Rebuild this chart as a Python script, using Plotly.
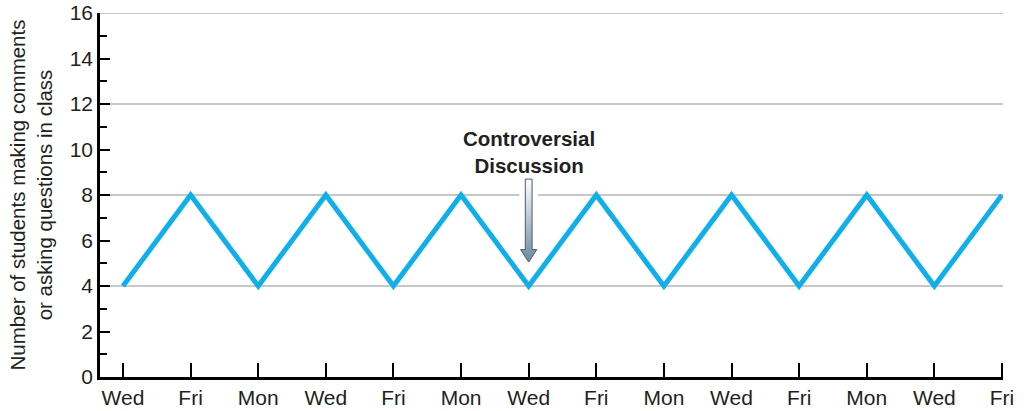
import plotly.graph_objects as go

# Class sessions and the number of students participating in each
days = ["Wed", "Fri", "Mon", "Wed", "Fri", "Mon", "Wed",
        "Fri", "Mon", "Wed", "Fri", "Mon", "Wed", "Fri"]
students = [4, 8, 4, 8, 4, 8, 4, 8, 4, 8, 4, 8, 4, 8]

y_ticks = [0, 2, 4, 6, 8, 10, 12, 14, 16]
grid_levels = [4, 8, 12, 16]

event_index = 6          # session where the controversial discussion happened
event_label = "Controversial<br>Discussion"

x_idx = list(range(len(days)))
LINE_BLUE = "#0db0ec"
TEXT = "#231f20"
FONT = "Liberation Sans, Arial, Helvetica, sans-serif"

fig = go.Figure()

# Participation line
fig.add_trace(go.Scatter(
    x=x_idx, y=students, mode="lines",
    line=dict(color=LINE_BLUE, width=5, shape="linear"),
    hoverinfo="skip", showlegend=False,
))

# Downward arrow pointing at the event session (gradient-filled polygon)
ex = x_idx[event_index]
ey = students[event_index]
shaft_hw, head_hw = 0.05, 0.12
tip_y, head_base_y, top_y = ey + 1.05, ey + 1.6, ey + 4.7
arrow_x = [ex - shaft_hw, ex + shaft_hw, ex + shaft_hw, ex + head_hw,
           ex, ex - head_hw, ex - shaft_hw, ex - shaft_hw]
arrow_y = [top_y, top_y, head_base_y, head_base_y,
           tip_y, head_base_y, head_base_y, top_y]
fig.add_trace(go.Scatter(
    x=arrow_x, y=arrow_y, mode="lines", fill="toself",
    line=dict(color="#4d5a63", width=1),
    fillgradient=dict(type="vertical", start=tip_y, stop=top_y,
                      colorscale=[[0, "#6a8ba1"], [1, "#ffffff"]]),
    hoverinfo="skip", showlegend=False,
))

shapes = []
for g in grid_levels:
    shapes.append(dict(type="line", xref="paper", yref="y", x0=0, x1=1,
                       y0=g, y1=g, layer="below",
                       line=dict(color="#b5b5b5", width=1.5)))
# clear the gridline behind the arrow shaft
shapes.append(dict(type="rect", xref="x", yref="y",
                   x0=ex - 0.14, x1=ex + 0.14, y0=7.85, y1=8.15,
                   layer="below", fillcolor="white", line=dict(width=0)))

fig.update_layout(
    width=1024, height=411,
    margin=dict(l=100, r=21, t=13, b=34, autoexpand=False),
    paper_bgcolor="white", plot_bgcolor="white",
    font=dict(family=FONT, color=TEXT, size=21),
    shapes=shapes,
    annotations=[dict(
        x=ex, y=top_y + 0.02, xref="x", yref="y",
        text=f"<b>{event_label}</b>", showarrow=False,
        xanchor="center", yanchor="bottom",
        font=dict(family=FONT, size=20.5, color=TEXT),
    )],
    xaxis=dict(
        range=[-0.34, len(days) - 1 + 0.015],
        tickmode="array", tickvals=x_idx, ticktext=days,
        ticks="inside", ticklen=14, tickwidth=1.5, tickcolor="#000",
        showgrid=False, zeroline=False, automargin=False,
        showline=True, linecolor="#000", linewidth=2.5,
        tickfont=dict(size=21, color=TEXT),
    ),
    yaxis=dict(
        range=[0, 16],
        tickmode="array", tickvals=y_ticks,
        ticks="inside", ticklen=10, tickwidth=1.5, tickcolor="#000",
        minor=dict(dtick=1, ticks="inside", ticklen=7, tickwidth=1.5,
                   tickcolor="#000", showgrid=False),
        showgrid=False, zeroline=False, automargin=False,
        showline=True, linecolor="#000", linewidth=2.5,
        tickfont=dict(size=21, color=TEXT),
        title=dict(text="Number of students making comments<br>or asking questions in class",
                   font=dict(size=20.5, color=TEXT), standoff=12),
    ),
)

fig.write_html("out.html")
